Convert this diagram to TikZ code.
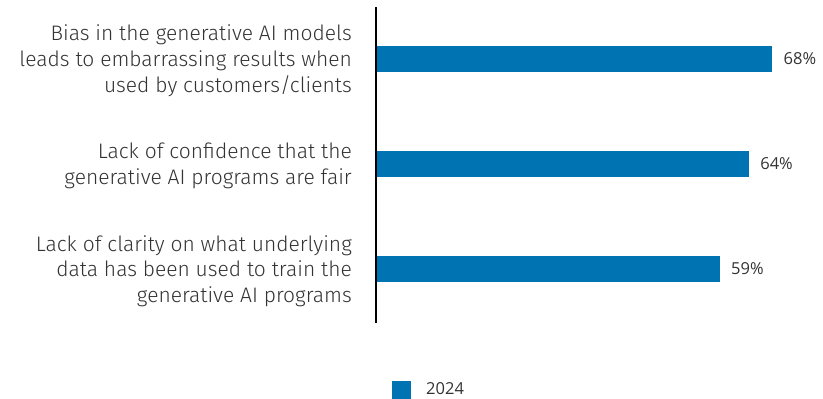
\documentclass[tikz,border=0pt]{standalone}
\usepackage{fontspec}
\setmainfont{Fira Sans Light}
\newfontfamily\numfont{Open Sans}
\definecolor{barblue}{RGB}{0,116,179}
\definecolor{txtgray}{RGB}{51,51,51}
\begin{document}
\begin{tikzpicture}[x=1pt,y=-1pt,
  catlabel/.style={anchor=base east,align=right,inner sep=0pt,text=txtgray,
    font=\fontsize{21}{25.7}\selectfont},
  barbox/.style={fill=barblue,draw=none},
  pctlabel/.style={anchor=west,inner sep=0pt,text=txtgray,font=\numfont\fontsize{16.5}{20}\selectfont},
]
\useasboundingbox (0,0) rectangle (823,399);
\def\ppc{5.83}
% bars
\fill[barblue] (376,46) rectangle ({376+68*\ppc},72) coordinate (b1);
\fill[barblue] (376,151) rectangle ({376+64*\ppc},177) coordinate (b2);
\fill[barblue] (376,256) rectangle ({376+59*\ppc},282) coordinate (b3);
\node[pctlabel] (p1) at ({376+68*\ppc+11},59) {68\%};
\node[pctlabel] (p2) at ({376+64*\ppc+11},164) {64\%};
\node[pctlabel] (p3) at ({376+59*\ppc+11},269) {59\%};
% axis
\coordinate (axtop) at (376,7);
\coordinate (axbot) at (376,323);
\draw[black,line width=1.2pt] (axtop) -- (axbot);
% category labels (base anchor = last line baseline)
\node[catlabel] (l1) at (352,92) {Bias in the generative AI models\\leads to embarrassing results when\\used by customers/clients};
\node[catlabel] (l2) at (352,184) {Lack of confidence that the\\generative AI programs are fair};
\node[catlabel] (l3) at (352,302.5) {Lack of clarity on what underlying\\data has been used to train the\\generative AI programs};
% legend
\fill[barblue] (392,381) rectangle (411,399);
\node[pctlabel,anchor=west] (leg) at (426,389) {2024};
\end{tikzpicture}
\end{document}
